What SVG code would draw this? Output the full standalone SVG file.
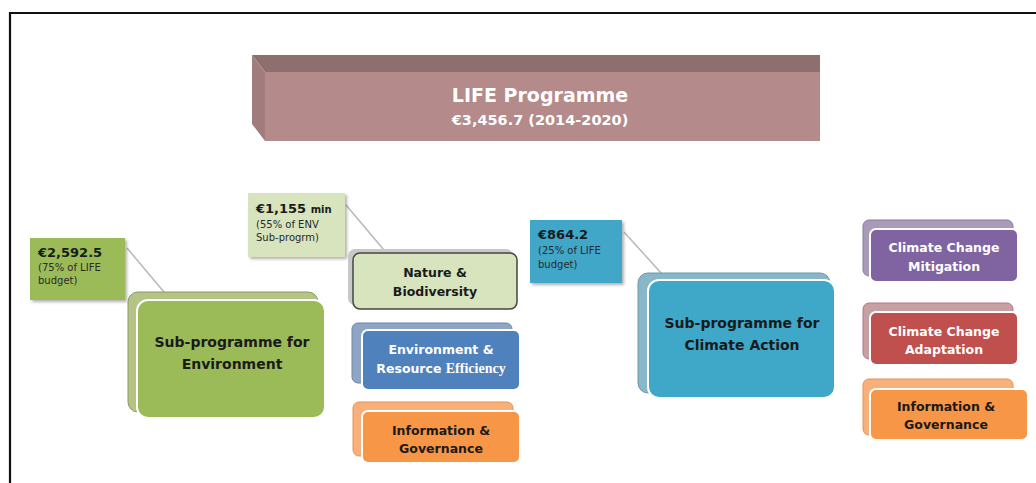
<svg xmlns="http://www.w3.org/2000/svg" width="1036" height="483" viewBox="0 0 1036 483">
<style>
text{font-family:"DejaVu Sans","Liberation Sans",sans-serif;font-weight:bold;text-anchor:middle}
.w{fill:#ffffff}
.d{fill:#1a1a1a}
.cal{text-anchor:start}
.sm{font-size:10px;font-weight:normal}
.big{font-size:14px}
.mid{font-size:12.5px}
.ptr{stroke:#b8b8b8;stroke-width:1.5;fill:none}
.front{stroke:#ffffff;stroke-width:2}
</style>
<defs>
<filter id="sh" x="-10%" y="-10%" width="130%" height="130%">
<feDropShadow dx="2" dy="2" stdDeviation="1.5" flood-color="#000" flood-opacity="0.3"/>
</filter>
</defs>
<rect width="1036" height="483" fill="#ffffff"/>
<path d="M10 483 V13 H1036" fill="none" stroke="#111" stroke-width="2.2"/>

<g id="banner">
<polygon points="252,55 820,55 820,72 265,72" fill="#8d6f6f"/>
<polygon points="252,55 265,72 265,141 252,124" fill="#a07c7d"/>
<rect x="265" y="72" width="555" height="69" fill="#b48a8b"/>
<text x="540" y="102" class="w" style="font-size:19px">LIFE Programme</text>
<text x="540" y="125" class="w" style="font-size:14.5px">€3,456.7 (2014-2020)</text>
</g>

<g id="connectors">
<line class="ptr" x1="127" y1="248" x2="164" y2="292"/>
<line class="ptr" x1="346" y1="205" x2="384" y2="250"/>
<line class="ptr" x1="624" y1="232" x2="662" y2="274"/>
</g>

<g id="callout-env">
<rect x="30" y="238" width="95" height="62" fill="#9bbb59" filter="url(#sh)"/>
<text x="38" y="257" class="d cal" style="font-size:13px">€2,592.5</text>
<text x="38" y="271" class="d cal sm" style="fill:#2a2a2a">(75% of LIFE</text>
<text x="38" y="284" class="d cal sm" style="fill:#2a2a2a">budget)</text>
</g>

<g id="env">
<rect x="128" y="292" width="190" height="120" rx="10" fill="#b4c486" stroke="#8b9a5c" stroke-width="1"/>
<rect x="137" y="300" width="188" height="118" rx="11" fill="#9bbb59" class="front"/>
<text x="232" y="347" class="d big">Sub-programme for</text>
<text x="232" y="369" class="d big">Environment</text>
</g>

<g id="callout-nature">
<rect x="248" y="193" width="97" height="64" fill="#d7e4bd" filter="url(#sh)"/>
<text x="256" y="213" class="d cal" style="font-size:13px">€1,155 <tspan style="font-size:10px">min</tspan></text>
<text x="256" y="228" class="d cal sm" style="fill:#2a2a2a">(55% of ENV</text>
<text x="256" y="241" class="d cal sm" style="fill:#2a2a2a">Sub-progrm)</text>
</g>

<g id="nature">
<rect x="348" y="249" width="165" height="56" rx="7" fill="#c8c8c8"/>
<rect x="353" y="253" width="164" height="56" rx="7" fill="#d7e4bd" stroke="#444" stroke-width="1.5"/>
<text x="435" y="277" class="d mid">Nature &amp;</text>
<text x="435" y="296" class="d mid">Biodiversity</text>
</g>

<g id="resource">
<rect x="352" y="323" width="160" height="60" rx="6" fill="#8ea5c4" stroke="#6f86a6" stroke-width="1"/>
<rect x="362" y="330" width="158" height="60" rx="6" fill="#4f81bd" class="front"/>
<text x="441" y="354" class="w mid">Environment &amp;</text>
<text x="441" y="373" class="w mid">Resource <tspan style="font-family:'Liberation Serif',serif;font-size:14px">Efficiency</tspan></text>
</g>

<g id="info-env">
<rect x="353" y="402" width="160" height="54" rx="6" fill="#f7b07a" stroke="#e8924e" stroke-width="1"/>
<rect x="362" y="411" width="158" height="52" rx="6" fill="#f79646" class="front"/>
<text x="441" y="435" class="d mid">Information &amp;</text>
<text x="441" y="453" class="d mid">Governance</text>
</g>

<g id="callout-climate">
<rect x="530" y="220" width="92" height="63" fill="#3fa7c8" filter="url(#sh)"/>
<text x="538" y="239" class="d cal" style="font-size:13px">€864.2</text>
<text x="538" y="254" class="d cal sm" style="fill:#2a2a2a">(25% of LIFE</text>
<text x="538" y="268" class="d cal sm" style="fill:#2a2a2a">budget)</text>
</g>

<g id="climate">
<rect x="638" y="273" width="192" height="120" rx="10" fill="#88b8c8" stroke="#6a9aaa" stroke-width="1"/>
<rect x="648" y="280" width="187" height="118" rx="11" fill="#3fa7c8" class="front"/>
<text x="742" y="328" class="d big">Sub-programme for</text>
<text x="742" y="350" class="d big">Climate Action</text>
</g>

<g id="mitigation">
<rect x="863" y="220" width="150" height="56" rx="6" fill="#a89ab8" stroke="#8a7a9e" stroke-width="1"/>
<rect x="870" y="229" width="148" height="53" rx="6" fill="#8064a2" class="front"/>
<text x="944" y="252" class="w mid">Climate Change</text>
<text x="944" y="271" class="w mid">Mitigation</text>
</g>

<g id="adaptation">
<rect x="863" y="303" width="150" height="56" rx="6" fill="#c8a0a4" stroke="#b07a80" stroke-width="1"/>
<rect x="870" y="312" width="148" height="53" rx="6" fill="#c0504d" class="front"/>
<text x="944" y="336" class="w mid">Climate Change</text>
<text x="944" y="354" class="w mid">Adaptation</text>
</g>

<g id="info-climate">
<rect x="863" y="379" width="150" height="56" rx="6" fill="#f7b07a" stroke="#e8924e" stroke-width="1"/>
<rect x="870" y="389" width="158" height="51" rx="6" fill="#f79646" class="front"/>
<text x="946" y="411" class="d mid">Information &amp;</text>
<text x="946" y="429" class="d mid">Governance</text>
</g>
</svg>
